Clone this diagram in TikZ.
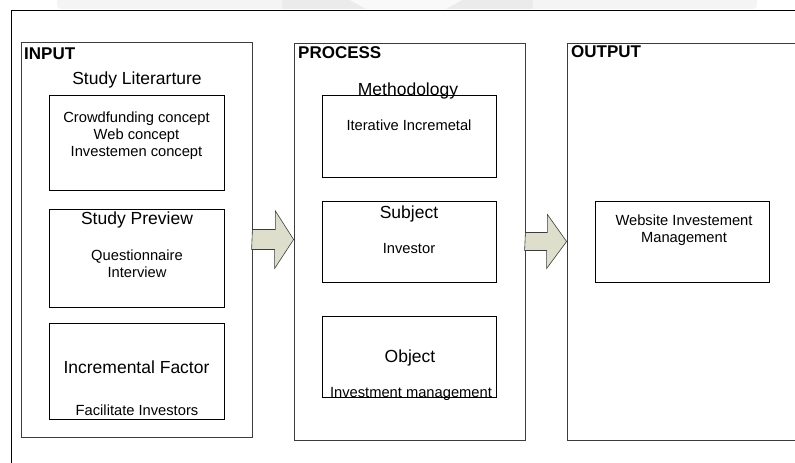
\documentclass[tikz,border=0pt]{standalone}
\usepackage{fontspec}
\setmainfont{Liberation Sans}
\usepackage{tikz}
\usetikzlibrary{positioning}
\definecolor{arrowfill}{RGB}{221,222,203}
\definecolor{framec}{RGB}{60,60,60}

\begin{document}
\begin{tikzpicture}[x=1pt, y=-1pt,
        frame/.style={draw=framec, line width=0.8pt, inner sep=0pt},
        box/.style={draw=black, line width=0.7pt, inner sep=0pt, minimum width=175pt},
        big/.style={inner sep=0pt, anchor=base, font=\fontsize{17.5}{20}\selectfont},
        small/.style={inner sep=0pt, anchor=base, align=center, font=\fontsize{14.7}{17}\selectfont},
        lbl/.style={inner sep=0pt, anchor=base west, font=\fontsize{17}{20}\selectfont\bfseries},
        blockarrow/.style={draw=framec, line width=0.6pt, fill=arrowfill, line join=miter}]
      \useasboundingbox (0,0) rectangle (795,463);
      % watermark band
      \fill[gray!9, rounded corners=4pt] (57,-5) rectangle (757,9);
      \fill[gray!16] (282,0) -- (533,0) -- (533,9) -- (282,9) -- cycle;
      \fill[gray!5] (350,0) -- (462,0) -- (446,9) -- (366,9) -- cycle;
      % outer frame
      \draw[black, line width=0.8pt] (11,463) -- (11,10) -- (800,10);
      % columns
      \node[frame, minimum width=231pt, minimum height=395pt] (input) at (136.5,239.5) {};
      \node[frame, minimum width=231pt, minimum height=397pt] (process) at (409.5,241.5) {};
      \node[frame, minimum width=260pt, minimum height=397pt] (output) at (697,241.5) {};
      \node[lbl] (inputL) at (24,59) {INPUT};
      \node[lbl] (processL) at (298,58) {PROCESS};
      \node[lbl] (outputL) at (571,57) {OUTPUT};
      % input (multi-line texts sit on their last baseline)
      \node[big] (litT) at (137,84) {Study Literarture};
      \node[box, minimum height=95pt] (lit) at (136.5,142.5) {};
      \node[small] (litS) at (136.5,156) {Crowdfunding concept\\Web concept\\Investemen concept};
      \node[box, minimum height=98pt] (prev) at (136.5,258) {};
      \node[big] (prevT) at (137,224) {Study Preview};
      \node[small] (prevS) at (137,277) {Questionnaire\\Interview};
      \node[box, minimum height=96pt] (fact) at (136.5,371) {};
      \node[big] (factT) at (136.5,373) {Incremental Factor};
      \node[small] (factS) at (137,415) {Facilitate Investors};
      % process
      \node[box, minimum width=174pt, minimum height=82pt] (meth) at (409,136) {};
      \node[big] (methT) at (408,95) {Methodology};
      \node[small] (methS) at (409,130) {Iterative Incremetal};
      \node[box, minimum width=174pt, minimum height=81pt] (subj) at (409,241.5) {};
      \node[big] (subjT) at (409,218) {Subject};
      \node[small] (subjS) at (409,253) {Investor};
      \node[box, minimum width=174pt, minimum height=81pt] (obj) at (409,356.5) {};
      \node[big] (objT) at (410,362) {Object};
      \node[small] (objS) at (411,397) {Investment management};
      % output
      \node[box, minimum width=174pt, minimum height=81pt] (web) at (682,241.5) {};
      \node[small] (webS) at (684,242) {Website Investement\\Management};
      % arrows
      \draw[blockarrow] (input.east) ++(0,-10) -- ++(23,0) -- ++(0,-18.5)
        -- (process.west |- input.east) -- ++(-19,29) -- ++(0,-19) -- ++(-23,0) -- cycle;
      \draw[blockarrow] (process.east) ++(0,-9) -- ++(22,0) -- ++(0,-18)
        -- (output.west) -- ++(-20,27) -- ++(0,-18) -- ++(-22,0) -- cycle;
\end{tikzpicture}
\end{document}
